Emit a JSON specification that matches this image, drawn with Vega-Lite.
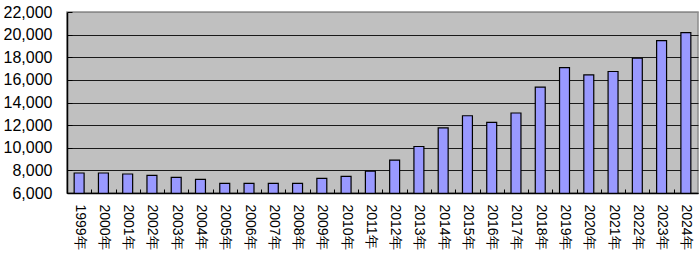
{
  "$schema": "https://vega.github.io/schema/vega-lite/v6.json",
  "autosize": "none",
  "width": 631,
  "height": 181,
  "padding": {"left": 67, "top": 12, "right": 2, "bottom": 62},
  "background": "white",
  "config": {
    "view": {"fill": "#C0C0C0", "stroke": "#8C8C8C", "strokeWidth": 1.5},
    "font": "Liberation Sans"
  },
  "data": {"values": [
    {"year": "1999年", "value": 7770},
    {"year": "2000年", "value": 7770},
    {"year": "2001年", "value": 7680},
    {"year": "2002年", "value": 7560},
    {"year": "2003年", "value": 7380},
    {"year": "2004年", "value": 7200},
    {"year": "2005年", "value": 6850},
    {"year": "2006年", "value": 6850},
    {"year": "2007年", "value": 6850},
    {"year": "2008年", "value": 6850},
    {"year": "2009年", "value": 7290},
    {"year": "2010年", "value": 7470},
    {"year": "2011年", "value": 7940},
    {"year": "2012年", "value": 8910},
    {"year": "2013年", "value": 10110},
    {"year": "2014年", "value": 11750},
    {"year": "2015年", "value": 12830},
    {"year": "2016年", "value": 12250},
    {"year": "2017年", "value": 13070},
    {"year": "2018年", "value": 15360},
    {"year": "2019年", "value": 17090},
    {"year": "2020年", "value": 16440},
    {"year": "2021年", "value": 16740},
    {"year": "2022年", "value": 17910},
    {"year": "2023年", "value": 19470},
    {"year": "2024年", "value": 20170}
  ]},
  "mark": {"type": "bar", "fill": "#9999FF", "stroke": "#000000", "strokeWidth": 1.2, "clip": true},
  "encoding": {
    "x": {
      "field": "year", "type": "nominal", "sort": null,
      "scale": {"paddingInner": 0.59, "paddingOuter": 0.295},
      "axis": {
        "title": null, "labelAngle": 90, "labelFontSize": 14, "labelColor": "#000",
        "domainColor": "#000", "domainWidth": 1.5,
        "tickColor": "#000", "tickSize": -4, "tickOffset": -12.15, "labelOffset": 12.15,
        "labelPadding": 15, "grid": false, "zindex": 1
      }
    },
    "y": {
      "field": "value", "type": "quantitative",
      "scale": {"domain": [6000, 22000], "nice": false, "zero": false},
      "axis": {
        "title": null, "values": [6000, 8000, 10000, 12000, 14000, 16000, 18000, 20000, 22000],
        "format": ",d", "labelFontSize": 16, "labelColor": "#000",
        "domainColor": "#000", "domainWidth": 1.5,
        "tickColor": "#000", "tickSize": -5, "labelPadding": 20,
        "grid": true, "gridWidth": 1.2,
        "gridColor": {"condition": {"test": "datum.value >= 22000", "value": "#8C8C8C"}, "value": "#1a1a1a"}
      }
    }
  }
}
